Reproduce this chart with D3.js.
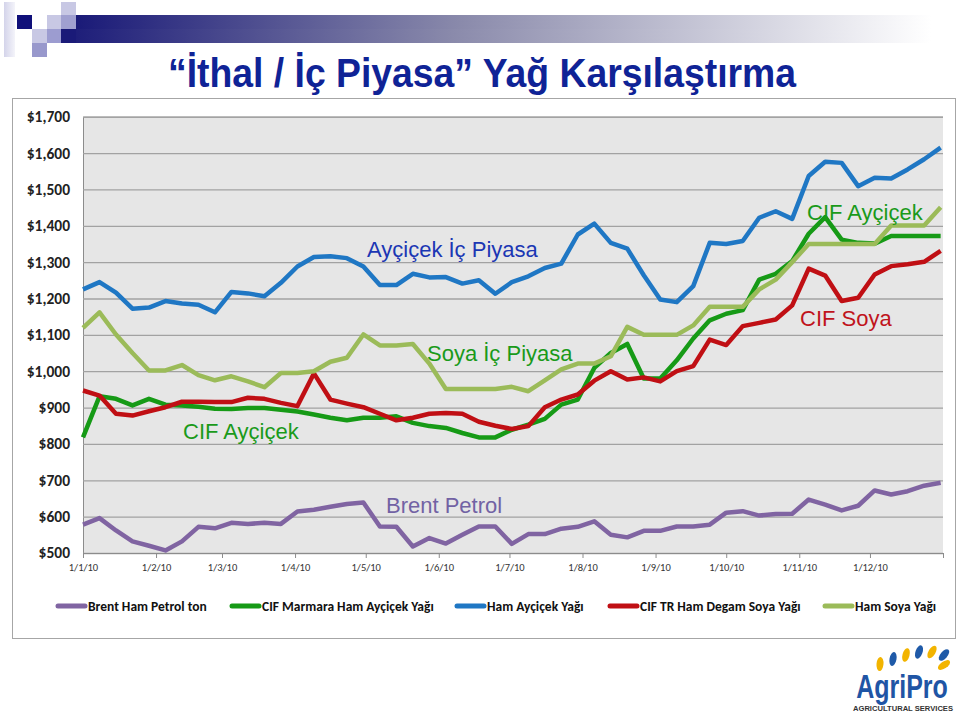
<!DOCTYPE html>
<html><head><meta charset="utf-8">
<script src="https://cdn.jsdelivr.net/npm/d3@7"></script>
<style>
html,body{margin:0;padding:0;background:#fff;}
svg{display:block;}
</style></head>
<body>
<script>
// ---- DATA ----
const weeks = ["01-01","01-08","01-15","01-22","01-29","02-05","02-12","02-19","02-26",
 "03-05","03-12","03-19","03-26","04-02","04-09","04-16","04-23","04-30",
 "05-07","05-14","05-21","05-28","06-04","06-11","06-18","06-25",
 "07-02","07-09","07-16","07-23","07-30","08-06","08-13","08-20","08-27",
 "09-03","09-10","09-17","09-24","10-01","10-08","10-15","10-22","10-29",
 "11-05","11-12","11-19","11-26","12-03","12-10","12-17","12-24","12-31"];
const brent = [578,596,562,532,520,507,532,572,568,583,580,583,580,614,619,627,635,639,573,572,
 518,541,526,550,573,573,525,552,552,567,572,587,550,543,561,561,573,573,578,611,
 615,603,607,608,647,633,617,630,672,661,670,685,693];
const cifAycicek = [818,931,924,906,924,908,906,902,897,896,899,899,894,889,881,872,865,872,872,876,
 858,849,844,830,818,818,839,853,869,908,922,1009,1050,1075,980,980,1030,1090,1140,1158,
 1168,1252,1268,1303,1378,1424,1362,1353,1351,1372,1372,1372,1372];
const hamAycicek = [1225,1245,1216,1172,1175,1193,1186,1183,1162,1218,1214,1206,1243,1288,1314,1316,1311,1288,1237,1237,
 1268,1258,1259,1241,1250,1213,1245,1261,1284,1296,1376,1406,1353,1337,1264,1197,1190,1234,1353,1350,
 1358,1422,1440,1419,1537,1576,1573,1509,1532,1530,1555,1583,1615];
const cifSoya = [947,933,883,878,890,901,916,916,915,915,927,924,913,904,994,922,911,901,883,865,
 872,883,885,883,861,850,841,849,901,922,936,974,1000,977,983,972,1000,1014,1087,1072,
 1124,1133,1142,1181,1282,1263,1193,1202,1266,1289,1294,1301,1331];
const hamSoya = [1119,1162,1101,1050,1002,1002,1017,989,975,986,972,956,995,995,1000,1026,1037,1101,1071,1071,
 1075,1021,951,951,951,951,957,945,975,1005,1021,1021,1041,1122,1100,1100,1100,1126,1177,1177,
 1177,1225,1252,1300,1350,1350,1350,1350,1350,1401,1401,1401,1451];
const seriesNames = ["Brent Ham Petrol ton","CIF Marmara Ham Ayçiçek Yağı","Ham Ayçiçek Yağı","CIF TR Ham Degam Soya Yağı","Ham Soya Yağı"];
const seriesValues = [brent, cifAycicek, hamAycicek, cifSoya, hamSoya];
const seriesColors = ["#8064a2","#169a16","#1f77c4","#c00f14","#9bbb59"];
const yTicks = [500,600,700,800,900,1000,1100,1200,1300,1400,1500,1600,1700];
const monthTicks = ["2010-01-01","2010-02-01","2010-03-01","2010-04-01","2010-05-01","2010-06-01",
 "2010-07-01","2010-08-01","2010-09-01","2010-10-01","2010-11-01","2010-12-01","2011-01-01"];
const titleText = "“İthal / İç Piyasa” Yağ Karşılaştırma";

// ---- CHART ----
const W = 960, H = 717;
const svg = d3.select("body").append("svg").attr("width", W).attr("height", H);
const defs = svg.append("defs");
const g1 = defs.append("linearGradient").attr("id","hdr").attr("x1","0").attr("x2","1").attr("y1","0").attr("y2","0");
g1.append("stop").attr("offset","0").attr("stop-color","#1a1a78");
g1.append("stop").attr("offset","0.45").attr("stop-color","#8a8aab");
g1.append("stop").attr("offset","1").attr("stop-color","#ffffff");
const g2 = defs.append("linearGradient").attr("id","pale").attr("x1","0").attr("x2","1");
g2.append("stop").attr("offset","0").attr("stop-color","#d4d4ea");
g2.append("stop").attr("offset","1").attr("stop-color","#f4f4fa");

// header decoration
svg.append("rect").attr("x",4).attr("y",2).attr("width",11).attr("height",55).attr("fill","url(#pale)");
svg.append("rect").attr("x",61).attr("y",29).attr("width",870).attr("height",14).attr("fill","url(#hdr)");
svg.append("rect").attr("x",76).attr("y",15).attr("width",855).attr("height",14).attr("fill","url(#hdr)");
svg.append("rect").attr("x",17).attr("y",15).attr("width",15).attr("height",14).attr("fill","#10107a");
const sq = [[32,29,"#c8c8e4"],[32,43,"#9898cc"],[47,15,"#c8c8e4"],[47,29,"#9c9cd0"],[61,2,"#c8c8e4"],[61,15,"#a0a0d0"]];
sq.forEach(s => svg.append("rect").attr("x",s[0]).attr("y",s[1]).attr("width",15).attr("height",14).attr("fill",s[2]));
svg.append("rect").attr("x",61).attr("y",29).attr("width",15).attr("height",14).attr("fill","#1a1a78");

// title
svg.append("text").attr("x",482).attr("y",87).attr("text-anchor","middle")
  .attr("font-family","'Liberation Sans Narrow','Arial Narrow','Liberation Sans',sans-serif")
  .attr("font-weight","bold").attr("font-size",40).attr("fill","#0f2396")
  .attr("textLength",628).attr("lengthAdjust","spacingAndGlyphs").text(titleText);

// chart box
svg.append("rect").attr("x",12.5).attr("y",98.5).attr("width",943).attr("height",540)
  .attr("fill","#fff").attr("stroke","#a6a6a6").attr("stroke-width",1);

const L = 83, R = 943, T = 116.7, B = 553;
const parse = d3.timeParse("%Y-%m-%d");
const x = d3.scaleTime().domain([parse("2010-01-01"), parse("2011-01-01")]).range([L, R]);
const y = d3.scaleLinear().domain([500, 1700]).range([B, T]);

svg.append("rect").attr("x",L).attr("y",T).attr("width",R-L).attr("height",B-T).attr("fill","#e6e6e6");

const yAxis = svg.append("g").attr("transform",`translate(${L},0)`)
  .call(d3.axisLeft(y).tickValues(yTicks).tickSize(-(R-L)).tickPadding(13).tickFormat(d3.format("$,")));
yAxis.select(".domain").attr("stroke","#8c8c8c");
yAxis.selectAll(".tick line").attr("stroke","#a2a2a2").attr("stroke-width",1.3);
yAxis.selectAll(".tick text").attr("font-family","Carlito,Lato,'Open Sans',sans-serif")
  .attr("font-size",15.5).attr("font-weight","600").attr("fill","#222");

const fmt = d3.timeFormat("%-d/%-m/%y");
const xAxis = svg.append("g").attr("transform",`translate(0,${B})`)
  .call(d3.axisBottom(x).tickValues(monthTicks.map(parse)).tickSize(5).tickPadding(6)
    .tickFormat(d => d.getFullYear() === 2010 ? fmt(d) : ""));
xAxis.select(".domain").attr("stroke","#8c8c8c");
xAxis.selectAll(".tick line").attr("stroke","#8c8c8c");
xAxis.selectAll(".tick text").attr("font-family","Carlito,Lato,'Open Sans',sans-serif")
  .attr("font-size",10.5).attr("fill","#333");

// lines
const dates = weeks.map(w => parse("2010-" + w));
const line = d3.line().x((d,i) => x(dates[i])).y(d => y(d));
seriesValues.forEach((vals, k) => {
  svg.append("path").datum(vals).attr("d", line).attr("fill","none")
    .attr("stroke", seriesColors[k]).attr("stroke-width",4.5)
    .attr("stroke-linejoin","round").attr("stroke-linecap","butt");
});

// annotations
const ann = [
  ["Ayçiçek İç Piyasa", 367, 257, "#1b37b4"],
  ["CIF Ayçiçek", 807, 220, "#1a9a1a"],
  ["Soya İç Piyasa", 427, 361, "#1a9a1a"],
  ["CIF Soya", 800, 326, "#c0141c"],
  ["CIF Ayçiçek", 183, 439, "#1a9a1a"],
  ["Brent Petrol", 386, 513, "#7262a4"]
];
ann.forEach(a => svg.append("text").attr("x",a[1]).attr("y",a[2])
  .attr("font-family","'Liberation Sans',Arial,sans-serif").attr("font-size",22)
  .attr("fill",a[3]).text(a[0]));

// legend
const legX = [58, 232, 457, 610, 825];
seriesNames.forEach((n, k) => {
  svg.append("line").attr("x1",legX[k]).attr("x2",legX[k]+27).attr("y1",606).attr("y2",606)
    .attr("stroke",seriesColors[k]).attr("stroke-width",5).attr("stroke-linecap","round");
  svg.append("text").attr("x",legX[k]+30).attr("y",611)
    .attr("font-family","Carlito,Lato,'Open Sans',sans-serif").attr("font-weight","bold")
    .attr("font-size",13.5).attr("fill","#111").text(n);
});

// logo
const leaves = [[880,664,-35,"#f2b400"],[893,659,-30,"#1f5aa8"],[906,655,-25,"#f2b400"],[919,652,-20,"#1f5aa8"],
  [932,652,-10,"#f2b400"],[944,655,0,"#1f5aa8"],[944,665,15,"#f2b400"]];
leaves.forEach(l => svg.append("ellipse").attr("cx",0).attr("cy",0).attr("rx",3.5).attr("ry",7)
  .attr("fill",l[3]).attr("transform",`translate(${l[0]},${l[1]}) rotate(${l[2]+40})`));
svg.append("text").attr("text-anchor","middle")
  .attr("transform","translate(902,698) scale(1,1.3)")
  .attr("font-family","'Liberation Sans',sans-serif").attr("font-weight","bold")
  .attr("font-size",25).attr("fill","#1f55a5").text("AgriPro");
svg.append("text").attr("x",903).attr("y",711).attr("text-anchor","middle")
  .attr("font-family","'Liberation Sans',sans-serif").attr("font-weight","bold")
  .attr("font-size",7.5).attr("fill","#333").attr("textLength",100).attr("lengthAdjust","spacingAndGlyphs").text("AGRICULTURAL SERVICES");
</script>
</body></html>
